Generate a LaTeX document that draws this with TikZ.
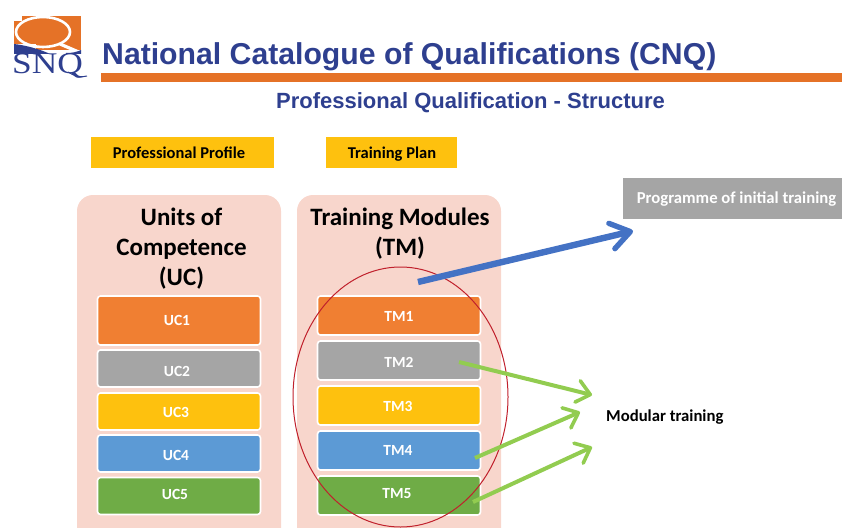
\documentclass[tikz,border=0pt]{standalone}
\usepackage{fontspec}
\setmainfont{Carlito}
\newfontfamily\headfont{Liberation Sans}
\newfontfamily\logofont{Liberation Serif}
\usetikzlibrary{arrows.meta}
\newcommand\mvtext[3]{\smash{\makebox[0pt]{\raisebox{#2pt}{\hspace*{#1pt}#3}}}}
\definecolor{navy}{HTML}{2E3F8F}
\definecolor{barorange}{HTML}{E57227}
\definecolor{panel}{HTML}{F8D6CC}
\definecolor{cOrange}{HTML}{F07F32}
\definecolor{cGrey}{HTML}{A5A5A5}
\definecolor{cYellow}{HTML}{FEC10E}
\definecolor{cBlue}{HTML}{5C9AD5}
\definecolor{cGreen}{HTML}{6FAC46}
\definecolor{arrowBlue}{HTML}{4472C4}
\definecolor{arrowGreen}{HTML}{92CC50}
\definecolor{ringRed}{HTML}{C0202C}
\tikzset{
 x=1pt,y=-1pt,
 panelbox/.style={fill=panel,rounded corners=16pt,draw=none},
 panelhead/.style={font=\fontsize{25}{30}\selectfont\bfseries,align=center,text=black},
 unitbox/.style={draw=white,line width=1.6pt,rounded corners=3pt,minimum width=163pt,text=white,inner sep=0pt,font=\fontsize{15.5}{18}\selectfont\bfseries},
 tagbox/.style={fill=cYellow,inner sep=0pt,font=\fontsize{16.5}{19}\selectfont\bfseries,text=black},
 bluearrow/.style={draw=arrowBlue,line width=6.4pt,-{Straight Barb[length=19pt,width=26pt,line width=5.4pt,round]}},
 greenarrow/.style={draw=arrowGreen,line width=4pt,-{Straight Barb[length=13pt,width=22pt,line width=3.6pt,round]}},
}
\begin{document}
\begin{tikzpicture}
\useasboundingbox (0,0) rectangle (842,527);
\begin{scope}
\clip (0,0) rectangle (842,527);
% logo
\fill[barorange] (14,16) rectangle (81,50);
\fill[white] (14,16) rectangle (22,21);
\draw[white,line width=2.6pt] (43,32) ellipse (27 and 15);
\draw[white,line width=3.2pt] (60,44) -- (81,53);
\fill[white] (14,44) rectangle (36,50);
\fill[navy] (14,44) .. controls (24,45) and (40,49) .. (50,54) -- (14,54) -- cycle;
\fill[navy] (66,53) .. controls (72,53) and (77,52) .. (81,50) -- (81,54) -- (66,54) -- cycle;
\node[text=navy,inner sep=0pt,font=\logofont\fontsize{30}{30}\selectfont,xscale=1.18] (logotext) at (47.5,66) {SNQ};
\draw[navy,line width=1pt] (68,72) .. controls (74,76) and (81,78) .. (87,76);
% header
\node[anchor=base west,inner sep=0pt,text=navy,font=\headfont\fontsize{30.2}{34}\selectfont\bfseries] (title) at (102,64.5) {National Catalogue of Qualifications (CNQ)};
\fill[barorange] (101,73) rectangle (842,82);
\node[text=navy,inner sep=0pt,font=\headfont\fontsize{22}{26}\selectfont\bfseries] (subtitle) at (470.5,103) {Professional Qualification - Structure};
% tags
\node[tagbox,minimum width=183pt,minimum height=31pt] (profile) at (182.5,152.5) {\mvtext{-7}{-6}{Professional Profile}};
\node[tagbox,minimum width=131pt,minimum height=31pt] (plan) at (391.5,152.5) {\mvtext{1}{-6}{Training Plan}};
% panels
\fill[panelbox] (77,195) rectangle (281,560);
\fill[panelbox] (297,195) rectangle (501,560);
\node[panelhead] (uchead) at (181.5,249) {Units of\\Competence\\(UC)};
\node[panelhead] (tmhead) at (400,234) {Training Modules\\(TM)};
% UC
\node[unitbox,fill=cOrange,minimum height=49pt] (uc1) at (179,320.5) {\mvtext{-4}{-4.5}{UC1}};
\node[unitbox,fill=cGrey,minimum height=37pt] (uc2) at (179,368.5) {\mvtext{-4}{-7.5}{UC2}};
\node[unitbox,fill=cYellow,minimum height=37pt] (uc3) at (179,411.5) {\mvtext{-6}{-5.5}{UC3}};
\node[unitbox,fill=cBlue,minimum height=37pt] (uc4) at (179,453.5) {\mvtext{-6}{-6.5}{UC4}};
\node[unitbox,fill=cGreen,minimum height=37pt] (uc5) at (179,496) {\mvtext{-8}{-3}{UC5}};
% TM
\node[unitbox,fill=cOrange,minimum height=39pt] (tm1) at (399,315.5) {\mvtext{0}{-5.5}{TM1}};
\node[unitbox,fill=cGrey,minimum height=39pt] (tm2) at (399,360.5) {\mvtext{0}{-6.5}{TM2}};
\node[unitbox,fill=cYellow,minimum height=39pt] (tm3) at (399,405.5) {\mvtext{-2}{-5.5}{TM3}};
\node[unitbox,fill=cBlue,minimum height=39pt] (tm4) at (399,450.5) {\mvtext{-2}{-4.5}{TM4}};
\node[unitbox,fill=cGreen,minimum height=39pt] (tm5) at (399,495.5) {\mvtext{-4}{-2.5}{TM5}};
% ring
\draw[ringRed,line width=1pt] (400.5,397) ellipse (107.5 and 130);
% right
\node[fill=cGrey,text=white,minimum width=219pt,minimum height=41pt,inner sep=0pt,font=\fontsize{16.7}{20}\selectfont\bfseries] (prog) at (732.5,198.5) {\mvtext{8}{-5}{Programme of initial training}};
\node[anchor=west,inner sep=0pt,font=\fontsize{16.7}{20}\selectfont\bfseries] (modular) at (606,417) {Modular training};
% arrows
\coordinate (bstart) at (418,282);
\coordinate (bend) at (633,231);
\coordinate (g2s) at (459,362);
\coordinate (g2e) at (592,395);
\coordinate (g4s) at (475,458);
\coordinate (g4e) at (580,412);
\coordinate (g5s) at (473,502);
\coordinate (g5e) at (592,447);
\draw[bluearrow] (bstart) -- (bend);
\draw[greenarrow] (g2s) -- (g2e);
\draw[greenarrow] (g4s) -- (g4e);
\draw[greenarrow] (g5s) -- (g5e);
\end{scope}
\end{tikzpicture}
\end{document}
